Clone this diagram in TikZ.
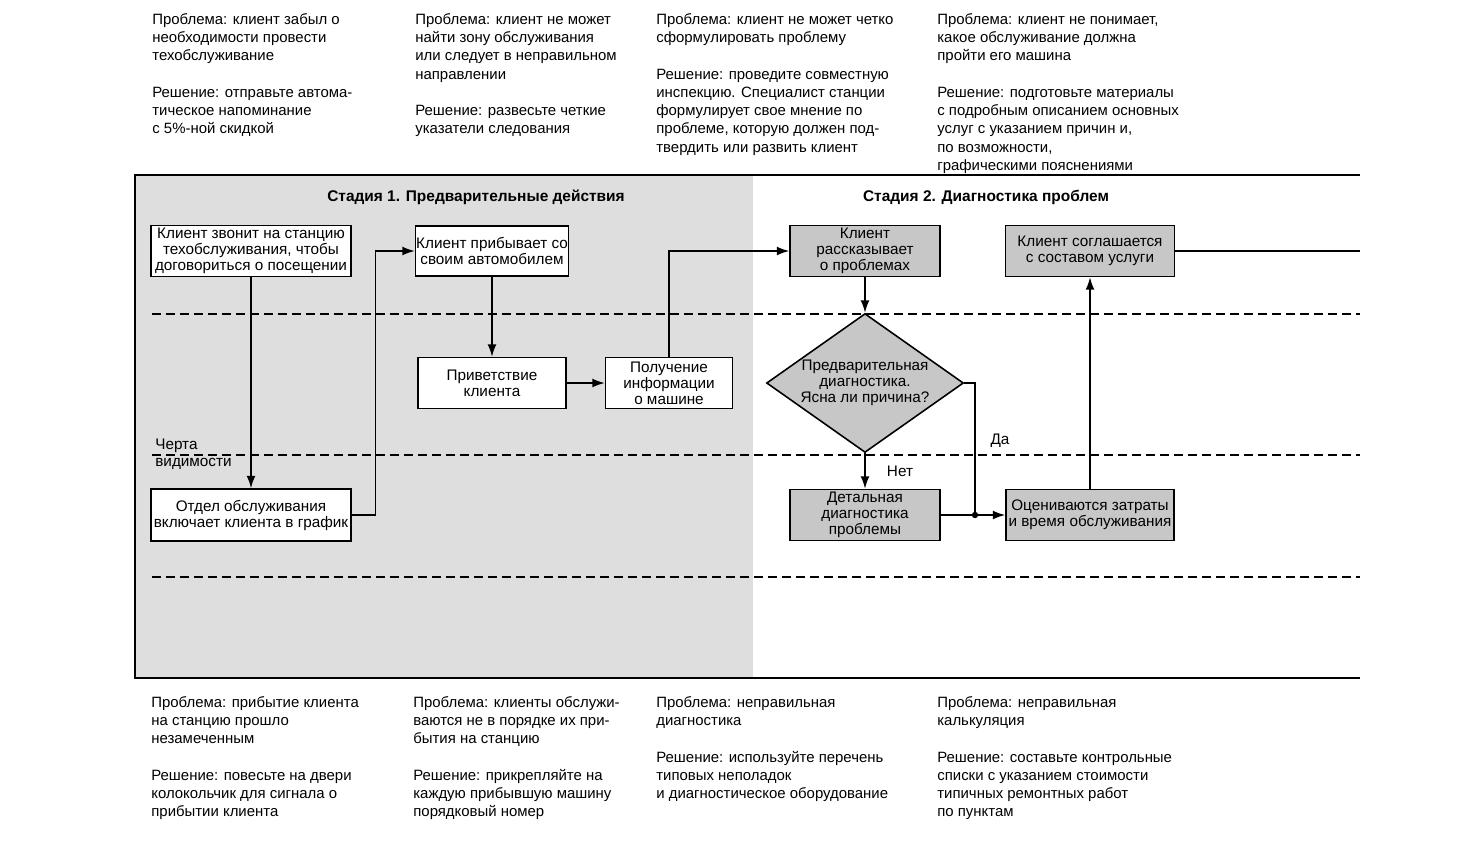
\documentclass[tikz,border=0pt]{standalone}
\usepackage{fontspec}
\setmainfont{Liberation Sans}
\usetikzlibrary{shapes.geometric, arrows.meta, positioning, calc}
\newcommand{\notefont}{\fontsize{8.5}{10.4}\selectfont}
\newcommand{\boxfont}{\fontsize{8.7}{9.1}\selectfont}
\newcommand{\titlefont}{\fontsize{8.8}{10}\selectfont\bfseries}
\newcommand{\pgap}{\\[10.4pt]}

\begin{document}
\begin{tikzpicture}[x=0.02cm, y=-0.02cm,
    block/.style={rectangle, draw, line width=0.9pt, fill=white, align=center, inner sep=0pt, font=\boxfont},
    greyblock/.style={block, fill=black!22},
    decision/.style={diamond, draw, line width=0.9pt, fill=black!22, align=center, inner sep=0pt, aspect=1.42, minimum width=3.94cm, minimum height=2.78cm, font=\boxfont},
    note/.style={anchor=north west, align=left, inner sep=0pt, font=\notefont},
    lane/.style={dash pattern=on 0.18cm off 0.1cm, line width=0.7pt},
    arrow/.style={line width=0.8pt, -{Latex[length=7pt, width=5pt]}},
    line/.style={line width=0.8pt}]
    \useasboundingbox (0,0) rectangle (1463,853);

    % stage 1 background and frame
    \fill [black!13] (135,175) rectangle (753,678);
    \draw [line] (1360,175) -- (135,175) -- (135,678) -- (1360,678);
    \draw [lane] (152,314) -- (1360,314);
    \draw [lane] (152,455) -- (1360,455);
    \draw [lane] (152,577) -- (1360,577);

    \node [font=\titlefont] (st1) at (476,197) {Стадия 1. Предварительные действия};
    \node [font=\titlefont] (st2) at (986,197) {Стадия 2. Диагностика проблем};
    \node [anchor=west, align=left, inner sep=0pt, font=\boxfont, text depth=0pt] (vis) at (155,453) {Черта\\[0.5pt]видимости};

    % problems and solutions, top
    \node [note] (n1) at (152,13) {Проблема: клиент забыл о\\необходимости провести\\техобслуживание\pgap Решение: отправьте автома-\\тическое напоминание\\с 5\%-ной скидкой};
    \node [note] (n2) at (415,13) {Проблема: клиент не может\\найти зону обслуживания\\или следует в неправильном\\направлении\pgap Решение: развесьте четкие\\указатели следования};
    \node [note] (n3) at (656,13) {Проблема: клиент не может четко\\сформулировать проблему\pgap Решение: проведите совместную\\инспекцию. Специалист станции\\формулирует свое мнение по\\проблеме, которую должен под-\\твердить или развить клиент};
    \node [note] (n4) at (937,13) {Проблема: клиент не понимает,\\какое обслуживание должна\\пройти его машина\pgap Решение: подготовьте материалы\\с подробным описанием основных\\услуг с указанием причин и,\\по возможности,\\графическими пояснениями};

    % problems and solutions, bottom
    \node [note] (n5) at (151,696) {Проблема: прибытие клиента\\на станцию прошло\\незамеченным\pgap Решение: повесьте на двери\\колокольчик для сигнала о\\прибытии клиента};
    \node [note] (n6) at (413,696) {Проблема: клиенты обслужи-\\ваются не в порядке их при-\\бытия на станцию\pgap Решение: прикрепляйте на\\каждую прибывшую машину\\порядковый номер};
    \node [note] (n7) at (656,696) {Проблема: неправильная\\диагностика\pgap Решение: используйте перечень\\типовых неполадок\\и диагностическое оборудование};
    \node [note] (n8) at (937,696) {Проблема: неправильная\\калькуляция\pgap Решение: составьте контрольные\\списки с указанием стоимости\\типичных ремонтных работ\\по пунктам};

    % stage 1
    \node [block, minimum width=4cm, minimum height=1.02cm] (call) at (251,251) {Клиент звонит на станцию\\техобслуживания, чтобы\\договориться о посещении};
    \node [block, minimum width=3.06cm, minimum height=1cm] (arrive) at (492,251) {Клиент прибывает со\\своим автомобилем};
    \node [block, minimum width=2.96cm, minimum height=1.02cm] (greet) at (492,383) {Приветствие\\клиента};
    \node [block, minimum width=2.54cm, minimum height=1.02cm] (info) at (669,383) {Получение\\информации\\о машине};
    \node [block, minimum width=4cm, minimum height=1.04cm] (sched) at (251,515) {Отдел обслуживания\\включает клиента в график};

    % stage 2
    \node [greyblock, minimum width=3cm, minimum height=1.02cm] (tells) at (865,251) {Клиент\\рассказывает\\о проблемах};
    \node [decision] (diag) at (865,383) {Предварительная\\диагностика.\\Ясна ли причина?};
    \node [greyblock, minimum width=3cm, minimum height=1.02cm] (detail) at (865,515) {Детальная\\диагностика\\проблемы};
    \node [greyblock, minimum width=3.36cm, minimum height=1.02cm] (cost) at (1090,515) {Оцениваются затраты\\и время обслуживания};
    \node [greyblock, minimum width=3.38cm, minimum height=1.02cm] (agree) at (1090,251) {Клиент соглашается\\с составом услуги};
    \coordinate (junc) at (975,515);
    \coordinate (exit) at (1360,251);

    \draw [arrow] (call) -- (sched);
    \draw [arrow] (sched.east) -- ++(24,0) |- (arrive.west);
    \draw [arrow] (arrive) -- (greet);
    \draw [arrow] (greet) -- (info);
    \draw [arrow] (info.north) |- (tells.west);
    \draw [arrow] (tells) -- (diag);
    \draw [arrow] (diag) -- (detail);
    \node [font=\boxfont] (no) at (900,471) {Нет};
    \draw [line] (diag.east) -| (junc);
    \node [font=\boxfont] (yes) at (1000,441) {Да};
    \draw [arrow] (detail) -- (cost);
    \fill (junc) circle (3.2);
    \draw [arrow] (cost) -- (agree);
    \draw [line] (agree) -- (exit);
\end{tikzpicture}
\end{document}
